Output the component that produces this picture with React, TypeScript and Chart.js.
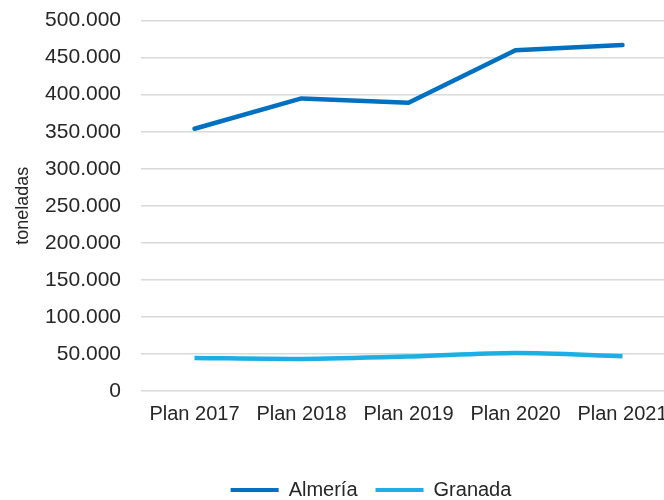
import React, { useEffect, useRef } from "react";
import { Chart, registerables } from "chart.js";

Chart.register(...registerables);

const categories = ["Plan 2017", "Plan 2018", "Plan 2019", "Plan 2020", "Plan 2021"];
const almeria = [354000, 395000, 389000, 460000, 467000];
const granada = [44600, 43300, 46500, 51300, 47000];
const seriesNames = ["Almería", "Granada"];
const yTitle = "toneladas";

const FONT = "'Liberation Sans', Arial, sans-serif";
const TEXT = "#262626";

const legendShift = {
  id: "legendShift",
  afterLayout(chart: any) {
    const l = chart.legend;
    if (l) {
      l.left += 33;
      l.right += 33;
    }
  },
};

export default function App() {
  const ref = useRef<HTMLCanvasElement | null>(null);
  useEffect(() => {
    if (!ref.current) return;
    const chart = new Chart(ref.current, {
      type: "line",
      data: {
        labels: categories,
        datasets: [
          {
            label: seriesNames[0],
            data: almeria,
            borderColor: "#0070C0",
            backgroundColor: "#0070C0",
            borderWidth: 4.5,
            pointRadius: 0,
            tension: 0,
            borderCapStyle: "round",
            borderJoinStyle: "round",
          },
          {
            label: seriesNames[1],
            data: granada,
            borderColor: "#1FAEE4",
            backgroundColor: "#1FAEE4",
            borderWidth: 4.5,
            pointRadius: 0,
            tension: 0.3,
            borderJoinStyle: "round",
          },
        ],
      },
      plugins: [legendShift],
      options: {
        animation: false,
        responsive: false,
        maintainAspectRatio: false,
        layout: { padding: { top: 1, right: 14, left: 0, bottom: 0 } },
        plugins: {
          tooltip: { enabled: false },
          legend: {
            position: "bottom",
            labels: {
              color: TEXT,
              font: { family: FONT, size: 20 },
              boxWidth: 48,
              boxHeight: 4,
              padding: 18,
              generateLabels: (c: any) =>
                c.data.datasets.map((d: any, i: number) => ({
                  text: d.label,
                  fillStyle: d.borderColor,
                  strokeStyle: d.borderColor,
                  lineWidth: 0,
                  hidden: false,
                  datasetIndex: i,
                  fontColor: TEXT,
                })),
            },
          },
        },
        scales: {
          x: {
            offset: true,
            grid: { display: false, drawTicks: false },
            border: { display: false },
            ticks: { color: TEXT, font: { family: FONT, size: 20 }, padding: 11, maxRotation: 0 },
            afterFit: (s: any) => {
              s.height = 71;
            },
          },
          y: {
            min: 0,
            max: 500000,
            grid: { color: "#D9D9D9", lineWidth: 1.5, drawTicks: false },
            border: { display: false },
            ticks: {
              stepSize: 50000,
              color: TEXT,
              font: { family: FONT, size: 21 },
              padding: 20,
              callback: (v: any) => Number(v).toLocaleString("de-DE"),
            },
            title: {
              display: true,
              text: yTitle,
              color: TEXT,
              font: { family: FONT, size: 18 },
              padding: { top: 12, bottom: 0 },
            },
            afterFit: (s: any) => {
              s.width = 141;
            },
          },
        },
      },
    });
    return () => chart.destroy();
  }, []);
  return (
    <div style={{ position: "fixed", left: 0, top: 0, width: 664, height: 500, overflow: "hidden", background: "#fff" }}>
      <canvas ref={ref} width={690} height={522} style={{ display: "block", position: "absolute", left: 0, top: -12 }} />
    </div>
  );
}
